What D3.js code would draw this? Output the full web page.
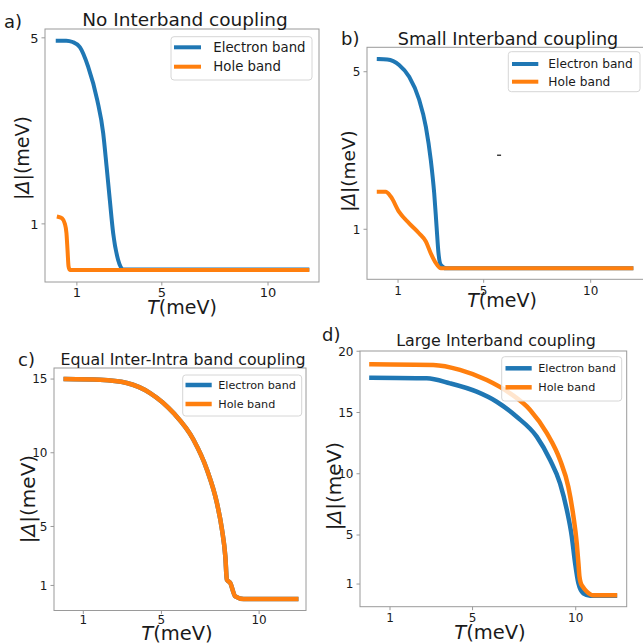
<!DOCTYPE html>
<html>
<head>
<meta charset="utf-8">
<script src="https://cdn.jsdelivr.net/npm/d3@7"></script>
<style>
body { margin: 0; background: #fff; }
text { font-family: "DejaVu Sans", sans-serif; fill: #1a1a1a; }
</style>
</head>
<body>
<div id="chart"></div>
<script>
// a) No Interband coupling
var aElectronT = [0.1, 0.5, 0.8, 1.14, 1.53, 1.96, 2.24, 2.40, 2.55, 2.71, 2.94, 3.18, 11.85];
var aElectronD = [4.94, 4.94, 4.91, 4.80, 4.38, 3.66, 2.95, 2.23, 1.52, 0.80, 0.23, 0.02, 0.02];
var aHoleT = [0.15, 0.30, 0.43, 0.51, 0.56, 0.61, 0.67, 11.85];
var aHoleD = [1.15, 1.12, 1.01, 0.80, 0.44, 0.08, 0.01, 0.01];

// b) Small Interband coupling
var bElectronT = [0.1, 0.5, 1.05, 1.52, 1.98, 2.30, 2.53, 2.69, 2.80, 2.89, 3.00, 3.24, 11.9];
var bElectronD = [5.32, 5.31, 5.17, 4.87, 4.30, 3.60, 2.76, 1.91, 1.07, 0.39, 0.09, 0.01, 0.01];
var bHoleT = [0.1, 0.42, 0.66, 1.05, 1.52, 1.98, 2.30, 2.53, 2.77, 3.00, 11.9];
var bHoleD = [1.95, 1.95, 1.83, 1.44, 1.15, 0.90, 0.69, 0.39, 0.14, 0.01, 0.01];
var bStray = [5.72, 2.88];

// c) Equal Inter-Intra band coupling (both bands coincide)
var cElectronT = [0.1, 1.86, 3.23, 4.42, 5.62, 6.64, 7.33, 7.84, 8.10, 8.27, 8.35, 8.52, 8.78, 9.21, 11.9];
var cElectronD = [15.0, 14.95, 14.73, 14.05, 12.69, 10.88, 8.85, 6.59, 4.78, 2.97, 1.39, 1.17, 0.26, 0.08, 0.08];
var cHoleT = [0.1, 1.86, 3.23, 4.42, 5.62, 6.64, 7.33, 7.84, 8.10, 8.27, 8.35, 8.52, 8.78, 9.21, 11.9];
var cHoleD = [15.0, 14.95, 14.73, 14.05, 12.69, 10.88, 8.85, 6.59, 4.78, 2.97, 1.39, 1.17, 0.26, 0.08, 0.08];

// d) Large Interband coupling
var dElectronT = [0.1, 2.78, 3.91, 5.20, 6.17, 7.14, 8.11, 8.76, 9.24, 9.57, 9.81, 9.97, 10.13, 10.37, 10.70, 11.9];
var dElectronD = [17.84, 17.79, 17.38, 16.70, 15.88, 14.65, 13.03, 11.12, 9.22, 7.04, 4.87, 2.70, 1.06, 0.24, 0.05, 0.05];
var dHoleT = [0.1, 3.10, 4.39, 5.69, 6.82, 7.79, 8.60, 9.24, 9.64, 9.89, 10.05, 10.13, 10.18, 10.25, 10.34, 10.53, 10.85, 11.9];
var dHoleD = [18.94, 18.88, 18.48, 17.65, 16.56, 15.21, 13.31, 11.12, 8.94, 6.50, 4.33, 2.70, 1.61, 1.06, 0.79, 0.39, 0.08, 0.08];

var xTicks = [1, 5, 10];
var aYTicks = [1, 5];
var bYTicks = [1, 5];
var cYTicks = [1, 5, 10, 15];
var dYTicks = [1, 5, 10, 15, 20];
var bandNames = ["Electron band", "Hole band"];
var bandColors = ["#1f77b4", "#ff7f0e"];
var titles = ["No Interband coupling", "Small Interband coupling", "Equal Inter-Intra band coupling", "Large Interband coupling"];
var letters = ["a)", "b)", "c)", "d)"];

var svg = d3.select("#chart").append("svg")
    .attr("width", 643)
    .attr("height", 644);

function zip(t, v) { return t.map(function(d, i) { return [d, v[i]]; }); }

var panels = [
  { frame: [45, 319, 29, 282], xlim: [-0.5, 12.4], ylim: [-0.25, 5.19], yTicks: aYTicks,
    series: [zip(aElectronT, aElectronD), zip(aHoleT, aHoleD)], lw: 4,
    title: [185, 26, 18.5], letter: [4, 28, 18], ylab: [22, 158, 19], xlab: [182, 314, 19],
    tickFont: 13, xTickDy: 15,
    legend: { box: [171, 36.7, 141, 43.3], rows: [47.3, 66.7], hx: [174, 201], tx: 213.3, font: 13.3 } },
  { frame: [367, 644, 47.3, 279.3], xlim: [-0.45, 12.49], ylim: [-0.27, 5.62], yTicks: bYTicks,
    series: [zip(bElectronT, bElectronD), zip(bHoleT, bHoleD)], lw: 4,
    title: [508, 45, 17.6], letter: [341, 45, 18], ylab: [348, 171, 18.5], xlab: [502, 307, 19],
    tickFont: 12, xTickDy: 15.5,
    legend: { box: [508.3, 51.7, 131.7, 40], rows: [64, 81.7], hx: [512, 538.3], tx: 548.3, font: 12.2 } },
  { frame: [54, 306, 368, 610.5], xlim: [-0.5, 12.4], ylim: [-0.7, 15.75], yTicks: cYTicks,
    series: [zip(cElectronT, cElectronD), zip(cHoleT, cHoleD)], lw: 4.5,
    title: [183, 365, 15.8], letter: [18, 366, 18], ylab: [28, 499, 20], xlab: [177, 640, 19.5],
    tickFont: 12, xTickDy: 13.5,
    legend: { box: [182.7, 375, 119, 41], rows: [385, 404], hx: [185.5, 211.7], tx: 218.3, font: 11.2 } },
  { frame: [360, 626.7, 351, 606.7], xlim: [-0.454, 12.47], ylim: [-0.85, 20.02], yTicks: dYTicks,
    series: [zip(dElectronT, dElectronD), zip(dHoleT, dHoleD)], lw: 4.5,
    title: [496, 346, 15.9], letter: [322, 341, 18], ylab: [334, 486, 20], xlab: [490, 639, 19.5],
    tickFont: 12, xTickDy: 15,
    legend: { box: [501.7, 356.7, 120, 44.3], rows: [368.3, 387.3], hx: [505.5, 531.7], tx: 538.3, font: 11.2 } }
];

panels.forEach(function(p, k) {
  var x = d3.scaleLinear().domain(p.xlim).range([p.frame[0], p.frame[1]]);
  var y = d3.scaleLinear().domain(p.ylim).range([p.frame[3], p.frame[2]]);
  var g = svg.append("g");

  var clipId = "clip" + k;
  g.append("clipPath").attr("id", clipId).append("rect")
    .attr("x", p.frame[0]).attr("y", p.frame[2])
    .attr("width", p.frame[1] - p.frame[0]).attr("height", p.frame[3] - p.frame[2]);

  var line = d3.line()
    .curve(d3.curveMonotoneX)
    .x(function(d) { return x(d[0]); })
    .y(function(d) { return y(d[1]); });

  g.append("g").attr("clip-path", "url(#" + clipId + ")")
    .selectAll("path").data(p.series).enter().append("path")
    .attr("d", line)
    .attr("fill", "none")
    .attr("stroke", function(d, i) { return bandColors[i]; })
    .attr("stroke-width", p.lw)
    .attr("stroke-linecap", "square")
    .attr("stroke-linejoin", "round");

  // frame
  g.append("rect")
    .attr("x", p.frame[0]).attr("y", p.frame[2])
    .attr("width", p.frame[1] - p.frame[0]).attr("height", p.frame[3] - p.frame[2])
    .attr("fill", "none").attr("stroke", "#9a9a9a").attr("stroke-width", 1);

  // y ticks
  var yt = g.append("g");
  yt.selectAll("line").data(p.yTicks).enter().append("line")
    .attr("x1", p.frame[0] - 3.5).attr("x2", p.frame[0])
    .attr("y1", function(d) { return y(d); }).attr("y2", function(d) { return y(d); })
    .attr("stroke", "#9a9a9a");
  yt.selectAll("text").data(p.yTicks).enter().append("text")
    .attr("x", p.frame[0] - 6.5)
    .attr("y", function(d) { return y(d); })
    .attr("dy", "0.36em")
    .attr("text-anchor", "end")
    .style("font-size", p.tickFont + "px")
    .text(function(d) { return d; });

  // x ticks
  var xt = g.append("g");
  xt.selectAll("line").data(xTicks).enter().append("line")
    .attr("y1", p.frame[3]).attr("y2", p.frame[3] + 3.5)
    .attr("x1", function(d) { return x(d); }).attr("x2", function(d) { return x(d); })
    .attr("stroke", "#9a9a9a");
  xt.selectAll("text").data(xTicks).enter().append("text")
    .attr("x", function(d) { return x(d); })
    .attr("y", p.frame[3] + p.xTickDy)
    .attr("text-anchor", "middle")
    .style("font-size", p.tickFont + "px")
    .text(function(d) { return d; });

  // titles and labels
  g.append("text").attr("x", p.title[0]).attr("y", p.title[1])
    .attr("text-anchor", "middle").style("font-size", p.title[2] + "px")
    .text(titles[k]);
  g.append("text").attr("x", p.letter[0]).attr("y", p.letter[1])
    .style("font-size", p.letter[2] + "px").text(letters[k]);

  var yl = g.append("text")
    .attr("transform", "translate(" + p.ylab[0] + "," + p.ylab[1] + ") rotate(-90)")
    .attr("text-anchor", "middle").attr("dy", "0.36em")
    .style("font-size", p.ylab[2] + "px");
  yl.append("tspan").text("|");
  yl.append("tspan").style("font-style", "italic").text("\u0394");
  yl.append("tspan").text("|(meV)");

  var xl = g.append("text").attr("x", p.xlab[0]).attr("y", p.xlab[1])
    .attr("text-anchor", "middle").style("font-size", p.xlab[2] + "px");
  xl.append("tspan").style("font-style", "italic").text("T");
  xl.append("tspan").text("(meV)");

  // legend
  var L = p.legend;
  var lg = g.append("g");
  lg.append("rect")
    .attr("x", L.box[0]).attr("y", L.box[1]).attr("width", L.box[2]).attr("height", L.box[3])
    .attr("rx", 3)
    .attr("fill", "#fff").attr("fill-opacity", 0.8)
    .attr("stroke", "#d6d6d6").attr("stroke-width", 1);
  lg.selectAll("line").data(bandNames).enter().append("line")
    .attr("x1", L.hx[0]).attr("x2", L.hx[1])
    .attr("y1", function(d, i) { return L.rows[i]; }).attr("y2", function(d, i) { return L.rows[i]; })
    .attr("stroke", function(d, i) { return bandColors[i]; })
    .attr("stroke-width", p.lw);
  lg.selectAll("text").data(bandNames).enter().append("text")
    .attr("x", L.tx)
    .attr("y", function(d, i) { return L.rows[i]; })
    .attr("dy", "0.36em")
    .style("font-size", L.font + "px")
    .text(function(d) { return d; });

  if (k === 1) {
    // small stray dash in panel b
    g.append("line")
      .attr("x1", x(bStray[0]) - 2).attr("x2", x(bStray[0]) + 2)
      .attr("y1", y(bStray[1])).attr("y2", y(bStray[1]))
      .attr("stroke", "#222").attr("stroke-width", 1.3);
  }
});
</script>
</body>
</html>
